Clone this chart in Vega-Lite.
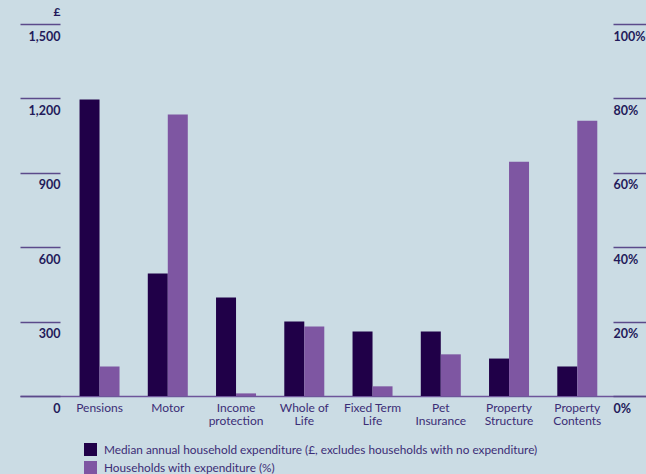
{
  "$schema": "https://vega.github.io/schema/vega-lite/v6.json",
  "width": 626,
  "height": 372,
  "autosize": "none",
  "padding": {"left": 20, "top": 24, "right": 0, "bottom": 78},
  "background": "#cbdce4",
  "config": {
    "view": {"stroke": null},
    "font": "Lato",
    "axis": {"labelFont": "Lato", "labelColor": "#231a5a", "titleColor": "#231a5a"}
  },
  "data": {
    "values": [
      {"cat": "Pensions", "series": "Median annual household expenditure (£, excludes households with no expenditure)", "value": 1196},
      {"cat": "Motor", "series": "Median annual household expenditure (£, excludes households with no expenditure)", "value": 494},
      {"cat": "Income|protection", "series": "Median annual household expenditure (£, excludes households with no expenditure)", "value": 397},
      {"cat": "Whole of|Life", "series": "Median annual household expenditure (£, excludes households with no expenditure)", "value": 300},
      {"cat": "Fixed Term|Life", "series": "Median annual household expenditure (£, excludes households with no expenditure)", "value": 260},
      {"cat": "Pet|Insurance", "series": "Median annual household expenditure (£, excludes households with no expenditure)", "value": 260},
      {"cat": "Property|Structure", "series": "Median annual household expenditure (£, excludes households with no expenditure)", "value": 151},
      {"cat": "Property|Contents", "series": "Median annual household expenditure (£, excludes households with no expenditure)", "value": 119},
      {"cat": "Pensions", "series": "Households with expenditure (%)", "value": 7.9},
      {"cat": "Motor", "series": "Households with expenditure (%)", "value": 75.7},
      {"cat": "Income|protection", "series": "Households with expenditure (%)", "value": 0.7},
      {"cat": "Whole of|Life", "series": "Households with expenditure (%)", "value": 18.7},
      {"cat": "Fixed Term|Life", "series": "Households with expenditure (%)", "value": 2.6},
      {"cat": "Pet|Insurance", "series": "Households with expenditure (%)", "value": 11.2},
      {"cat": "Property|Structure", "series": "Households with expenditure (%)", "value": 63},
      {"cat": "Property|Contents", "series": "Households with expenditure (%)", "value": 74}
    ]
  },
  "encoding": {
    "x": {
      "field": "cat", "type": "nominal", "sort": null,
      "scale": {"paddingInner": 0.414, "paddingOuter": 0.793, "align": 0.55},
      "axis": {
        "title": null, "labelAngle": 0, "ticks": false, "domainColor": "#6e559a", "domainWidth": 1.5,
        "labelExpr": "split(datum.label, '|')", "labelFontSize": 12, "labelPadding": 6, "labelLineHeight": 13.5,
        "labelColor": "#3b2d76"
      }
    },
    "xOffset": {
      "field": "series", "type": "nominal",
      "scale": {"domain": ["Median annual household expenditure (£, excludes households with no expenditure)", "Households with expenditure (%)"], "paddingInner": 0, "paddingOuter": 0}
    },
    "color": {
      "field": "series", "type": "nominal",
      "scale": {"domain": ["Median annual household expenditure (£, excludes households with no expenditure)", "Households with expenditure (%)"], "range": ["#200048", "#7e56a2"]},
      "legend": {
        "title": null, "orient": "none", "legendX": 64, "legendY": 419, "direction": "vertical",
        "symbolType": "square", "symbolSize": 169, "symbolStrokeWidth": 0, "symbolOpacity": 1,
        "labelFont": "Lato", "labelFontSize": 11.8, "labelColor": "#3b2d76", "labelLimit": 600, "labelOffset": 7, "rowPadding": 4
      }
    }
  },
  "layer": [
    {
      "transform": [{"filter": "datum.series !== 'Households with expenditure (%)'"}],
      "mark": {"type": "bar"},
      "encoding": {
        "y": {
          "field": "value", "type": "quantitative",
          "scale": {"domain": [0, 1500], "nice": false},
          "axis": {
            "title": "£", "titleAngle": 0, "titleX": 0, "titleY": -6, "titleAlign": "right", "titleFontSize": 12, "titleFontWeight": "bold", "titleBaseline": "bottom",
            "values": [0, 300, 600, 900, 1200, 1500], "offset": -40, "tickSize": 40, "tickColor": "#5b4a8a", "tickWidth": 1.5,
            "domain": false, "grid": false, "labelPadding": -40, "labelAlign": "right", "labelBaseline": "top", "labelOffset": 6,
            "labelFontSize": 12.5, "labelFontWeight": "bold", "format": ",.0f"
          }
        }
      }
    },
    {
      "transform": [{"filter": "datum.series === 'Households with expenditure (%)'"}],
      "mark": {"type": "bar"},
      "encoding": {
        "y": {
          "field": "value", "type": "quantitative",
          "scale": {"domain": [0, 100], "nice": false},
          "axis": {
            "title": null, "orient": "right",
            "values": [0, 20, 40, 60, 80, 100], "offset": -33, "tickSize": 33, "tickColor": "#5b4a8a", "tickWidth": 1.5,
            "domain": false, "grid": false, "labelPadding": -33, "labelAlign": "left", "labelBaseline": "top", "labelOffset": 6,
            "labelFontSize": 12.5, "labelFontWeight": "bold", "labelExpr": "datum.value + '%'"
          }
        }
      }
    }
  ],
  "resolve": {"scale": {"y": "independent"}}
}
